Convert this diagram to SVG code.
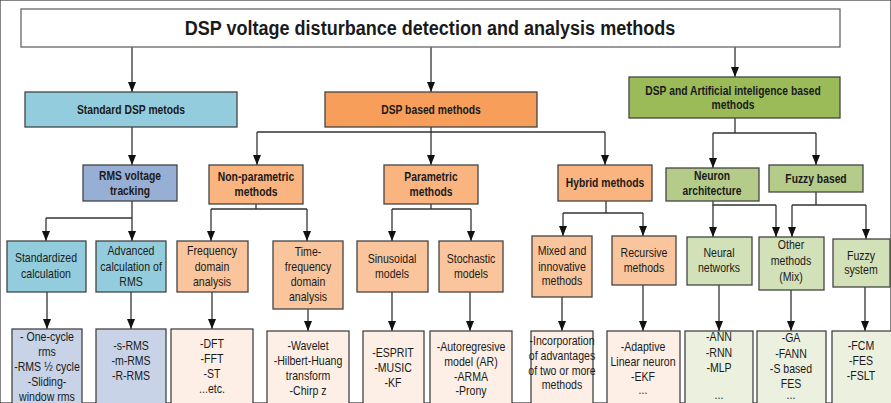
<svg xmlns="http://www.w3.org/2000/svg" width="891" height="403" viewBox="0 0 891 403">
<defs>
<style>
text{font-family:"Liberation Sans",Arial,sans-serif;fill:#1a1a1a;text-anchor:middle;transform-box:fill-box;transform-origin:center}
.t{font-size:20.5px;font-weight:bold;transform:scaleX(.88)}
.b{font-size:12px;font-weight:bold;transform:scaleX(.86)}
.r{font-size:12px;transform:scaleX(.88)}
rect{stroke:#444;stroke-width:1.3}
.title{fill:#fff;stroke:#666}
.cyan{fill:#93CDDD}
.org{fill:#F79E5A}
.grn{fill:#9BBB59}
.lav{fill:#98AFD5}
.org2{fill:#F9B47F}
.grn2{fill:#B4CB8A}
.org3{fill:#FAC59C}
.grn3{fill:#D3E1B8}
.leafb{fill:#C8D3E7}
.leafo{fill:#FDEFE5}
.leafg{fill:#EBF1DE}
#connectors path{fill:none;stroke:#333;stroke-width:1.3}
</style>
<marker id="ah" markerUnits="userSpaceOnUse" markerWidth="10" markerHeight="8" refX="10" refY="4" orient="auto">
<path d="M0,0 L10,4 L0,8 z" fill="#111"/>
</marker>
</defs>
<rect width="891" height="403" fill="#fff" stroke="none"/>

<g id="connectors">
<path d="M132,47 V92" marker-end="url(#ah)"/>
<path d="M431,47 V92" marker-end="url(#ah)"/>
<path d="M735,47 V77" marker-end="url(#ah)"/>
<path d="M132,127 V165" marker-end="url(#ah)"/>
<path d="M431,127 V132 M257,132 H605"/>
<path d="M257,132 V165" marker-end="url(#ah)"/>
<path d="M431,132 V165" marker-end="url(#ah)"/>
<path d="M605,132 V165" marker-end="url(#ah)"/>
<path d="M735,118 V133 M713,133 H816"/>
<path d="M713,133 V168" marker-end="url(#ah)"/>
<path d="M816,133 V165" marker-end="url(#ah)"/>
<path d="M46,218 H132"/>
<path d="M132,201 V241" marker-end="url(#ah)"/>
<path d="M46,218 V241" marker-end="url(#ah)"/>
<path d="M256,204 V209 M211,209 H307"/>
<path d="M211,209 V241" marker-end="url(#ah)"/>
<path d="M307,209 V241" marker-end="url(#ah)"/>
<path d="M431,204 V209 M392,209 H471"/>
<path d="M392,209 V241" marker-end="url(#ah)"/>
<path d="M471,209 V241" marker-end="url(#ah)"/>
<path d="M606,201 V213 M563,213 H643"/>
<path d="M563,213 V236" marker-end="url(#ah)"/>
<path d="M643,213 V236" marker-end="url(#ah)"/>
<path d="M713,201 V205 H776"/>
<path d="M713,205 V237" marker-end="url(#ah)"/>
<path d="M776,205 V237" marker-end="url(#ah)"/>
<path d="M816,192 V205 M792,205 H866"/>
<path d="M792,205 V237" marker-end="url(#ah)"/>
<path d="M866,205 V239" marker-end="url(#ah)"/>
<path d="M47,292 V329" marker-end="url(#ah)"/>
<path d="M131,292 V329" marker-end="url(#ah)"/>
<path d="M212,292 V329" marker-end="url(#ah)"/>
<path d="M308,309 V331" marker-end="url(#ah)"/>
<path d="M392,292 V331" marker-end="url(#ah)"/>
<path d="M470,292 V331" marker-end="url(#ah)"/>
<path d="M562,297 V331" marker-end="url(#ah)"/>
<path d="M643,285 V331" marker-end="url(#ah)"/>
<path d="M719,285 V331" marker-end="url(#ah)"/>
<path d="M791,290 V331" marker-end="url(#ah)"/>
<path d="M865,287 V331" marker-end="url(#ah)"/>
</g>

<g id="title"><rect class="title" x="21" y="9" width="819" height="38"/><text class="t" x="430" y="35">DSP voltage disturbance detection and analysis methods</text></g>

<g id="standard-dsp"><rect class="cyan" x="25" y="92" width="212" height="35"/><text class="b" x="131" y="114">Standard DSP metods</text></g>
<g id="dsp-based"><rect class="org" x="325" y="92" width="212" height="35"/><text class="b" x="431" y="114">DSP based methods</text></g>
<g id="dsp-ai"><rect class="grn" x="629" y="77" width="211" height="41"/><text class="b" x="733" y="95">DSP and Artificial inteligence based</text><text class="b" x="733" y="109">methods</text></g>

<g id="rms-tracking"><rect class="lav" x="83" y="165" width="94" height="36"/><text class="b" x="130" y="180">RMS voltage</text><text class="b" x="130" y="195">tracking</text></g>
<g id="non-parametric"><rect class="org2" x="209" y="165" width="94" height="39"/><text class="b" x="256" y="181">Non-parametric</text><text class="b" x="256" y="196">methods</text></g>
<g id="parametric"><rect class="org2" x="384" y="165" width="94" height="39"/><text class="b" x="431" y="181">Parametric</text><text class="b" x="431" y="196">methods</text></g>
<g id="hybrid"><rect class="org2" x="558" y="165" width="94" height="36"/><text class="b" x="605" y="187">Hybrid methods</text></g>
<g id="neuron-architecture"><rect class="grn2" x="666" y="168" width="93" height="33"/><text class="b" x="712" y="180">Neuron</text><text class="b" x="712" y="195">architecture</text></g>
<g id="fuzzy-based"><rect class="grn2" x="769" y="165" width="94" height="27"/><text class="b" x="816" y="183">Fuzzy based</text></g>

<g id="standardized"><rect class="cyan" x="7" y="241" width="79" height="51"/><text class="r" x="46" y="262">Standardized</text><text class="r" x="46" y="278">calculation</text></g>
<g id="advanced"><rect class="cyan" x="96" y="241" width="70" height="51"/><text class="r" x="131" y="255">Advanced</text><text class="r" x="131" y="271">calculation of</text><text class="r" x="131" y="286">RMS</text></g>
<g id="frequency-domain"><rect class="org3" x="177" y="241" width="71" height="51"/><text class="r" x="212" y="255">Frequency</text><text class="r" x="212" y="271">domain</text><text class="r" x="212" y="286">analysis</text></g>
<g id="time-frequency"><rect class="org3" x="273" y="241" width="70" height="68"/><text class="r" x="308" y="256">Time-</text><text class="r" x="308" y="271">frequency</text><text class="r" x="308" y="286">domain</text><text class="r" x="308" y="301">analysis</text></g>
<g id="sinusoidal"><rect class="org3" x="357" y="241" width="71" height="51"/><text class="r" x="392" y="263">Sinusoidal</text><text class="r" x="392" y="278">models</text></g>
<g id="stochastic"><rect class="org3" x="439" y="241" width="64" height="51"/><text class="r" x="471" y="263">Stochastic</text><text class="r" x="471" y="278">models</text></g>
<g id="mixed"><rect class="org3" x="532" y="236" width="60" height="61"/><text class="r" x="562" y="255">Mixed and</text><text class="r" x="562" y="271">innovative</text><text class="r" x="562" y="285">methods</text></g>
<g id="recursive"><rect class="org3" x="612" y="236" width="64" height="49"/><text class="r" x="644" y="257">Recursive</text><text class="r" x="644" y="272">methods</text></g>
<g id="neural-networks"><rect class="grn3" x="687" y="237" width="65" height="48"/><text class="r" x="719" y="257">Neural</text><text class="r" x="719" y="272">networks</text></g>
<g id="other-methods"><rect class="grn3" x="759" y="237" width="65" height="53"/><text class="r" x="791" y="249">Other</text><text class="r" x="791" y="265">methods</text><text class="r" x="791" y="281">(Mix)</text></g>
<g id="fuzzy-system"><rect class="grn3" x="833" y="239" width="57" height="48"/><text class="r" x="861" y="260">Fuzzy</text><text class="r" x="861" y="274">system</text></g>

<g id="leaf-rms"><rect class="leafb" x="12" y="329" width="70" height="80"/><text class="r" x="47" y="341">- One-cycle</text><text class="r" x="47" y="356">rms</text><text class="r" x="47" y="371">-RMS ½ cycle</text><text class="r" x="47" y="386">-Sliding-</text><text class="r" x="47" y="401">window rms</text></g>
<g id="leaf-advanced"><rect class="leafb" x="96" y="329" width="70" height="80"/><text class="r" x="131" y="350">-s-RMS</text><text class="r" x="131" y="365">-m-RMS</text><text class="r" x="131" y="380">-R-RMS</text></g>
<g id="leaf-frequency"><rect class="leafo" x="171" y="329" width="82" height="80"/><text class="r" x="212" y="348">-DFT</text><text class="r" x="212" y="363">-FFT</text><text class="r" x="212" y="378">-ST</text><text class="r" x="212" y="393">...etc.</text></g>
<g id="leaf-time-frequency"><rect class="leafo" x="267" y="331" width="82" height="80"/><text class="r" x="308" y="350">-Wavelet</text><text class="r" x="308" y="365">-Hilbert-Huang</text><text class="r" x="308" y="380">transform</text><text class="r" x="308" y="395">-Chirp z</text></g>
<g id="leaf-sinusoidal"><rect class="leafo" x="363" y="331" width="61" height="80"/><text class="r" x="393" y="357">-ESPRIT</text><text class="r" x="393" y="372">-MUSIC</text><text class="r" x="393" y="387">-KF</text></g>
<g id="leaf-stochastic"><rect class="leafo" x="430" y="331" width="82" height="80"/><text class="r" x="471" y="351">-Autoregresive</text><text class="r" x="471" y="366">model (AR)</text><text class="r" x="471" y="381">-ARMA</text><text class="r" x="471" y="395">-Prony</text></g>
<g id="leaf-mixed"><rect class="leafo" x="531" y="331" width="62" height="80"/><text class="r" x="562" y="345">-Incorporation</text><text class="r" x="562" y="360">of advantages</text><text class="r" x="562" y="375">of two or more</text><text class="r" x="562" y="389">methods</text></g>
<g id="leaf-recursive"><rect class="leafo" x="607" y="331" width="73" height="80"/><text class="r" x="643" y="351">-Adaptive</text><text class="r" x="643" y="366">Linear neuron</text><text class="r" x="643" y="381">-EKF</text><text class="r" x="643" y="394">...</text></g>
<g id="leaf-neural"><rect class="leafg" x="685" y="331" width="68" height="80"/><text class="r" x="719" y="341">-ANN</text><text class="r" x="719" y="357">-RNN</text><text class="r" x="719" y="372">-MLP</text><text class="r" x="719" y="399">...</text></g>
<g id="leaf-other"><rect class="leafg" x="757" y="331" width="69" height="80"/><text class="r" x="791" y="342">-GA</text><text class="r" x="791" y="358">-FANN</text><text class="r" x="791" y="373">-S based</text><text class="r" x="791" y="388">FES</text><text class="r" x="791" y="399">...</text></g>
<g id="leaf-fuzzy"><rect class="leafg" x="832" y="331" width="64" height="80"/><text class="r" x="861" y="350">-FCM</text><text class="r" x="861" y="365">-FES</text><text class="r" x="861" y="380">-FSLT</text></g>
</svg>
